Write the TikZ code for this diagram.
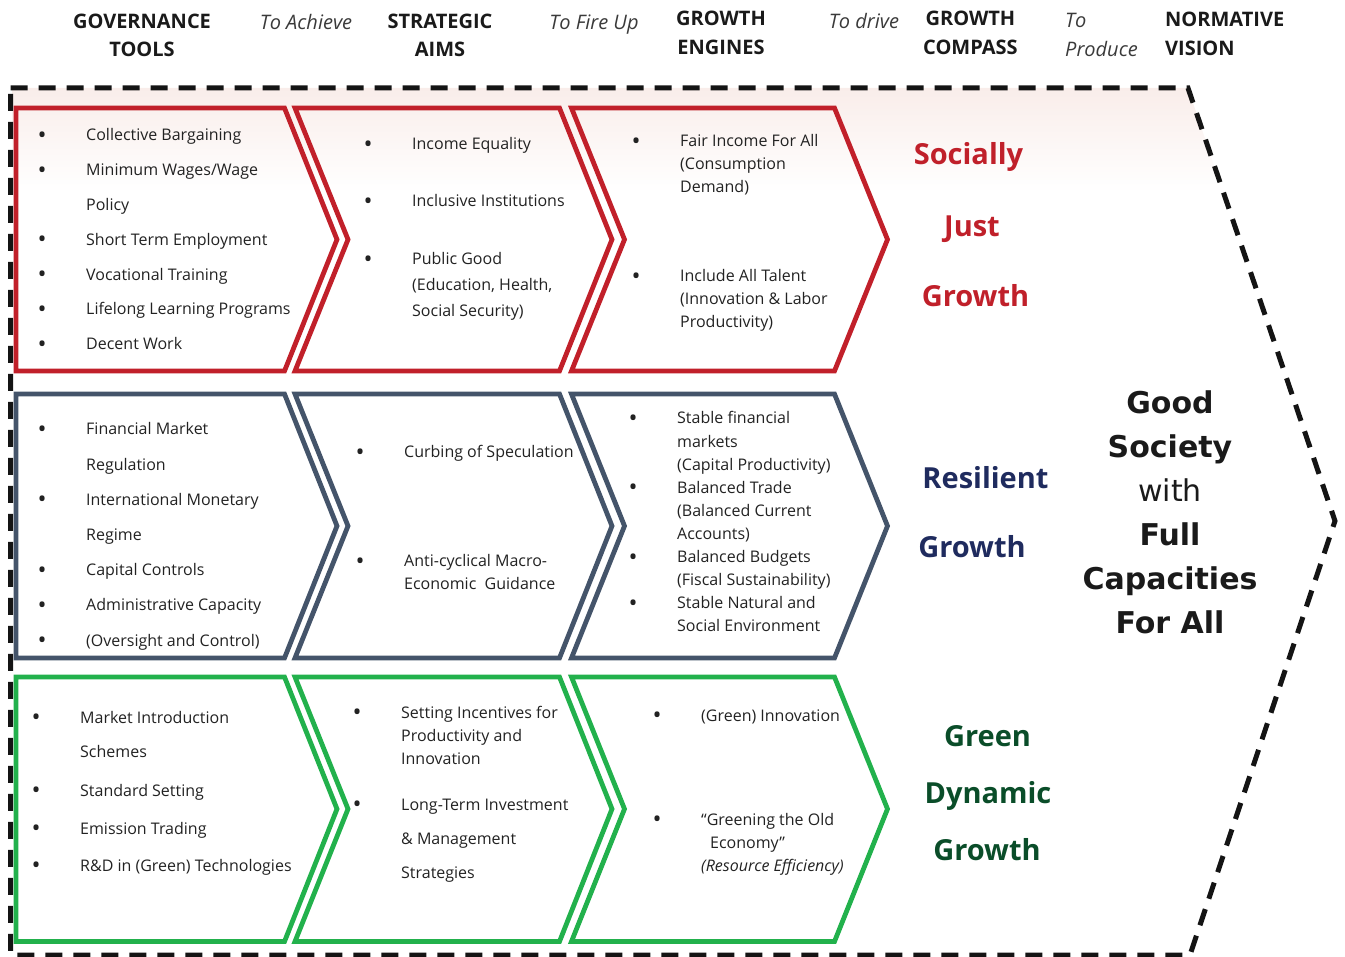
\documentclass[tikz,border=0pt]{standalone}
\usepackage{fontspec}
\setmainfont{Open Sans}
\newfontfamily\gsfont{DejaVu Sans}
\definecolor{redc}{HTML}{C1202A}
\definecolor{bluec}{HTML}{44546A}
\definecolor{greenc}{HTML}{22B14C}
\definecolor{redt}{HTML}{C0202A}
\definecolor{bluet}{HTML}{1F2B5E}
\definecolor{greent}{HTML}{0A4D29}
\definecolor{bodyc}{HTML}{222222}
\definecolor{hdrc}{HTML}{1A1A1A}
\definecolor{connc}{HTML}{3A3A3A}
\definecolor{pinkc}{HTML}{F9EDEA}
\newcommand{\bigbul}{\raisebox{-2.6pt}{\fontsize{24}{24}\selectfont\textbullet}}
\newcommand{\bl}[1]{\hbox{\makebox[47pt][l]{\hspace*{-1.5pt}\bigbul}#1}}
\newcommand{\nb}[1]{\hbox{\hspace*{47pt}#1}}
\newcommand{\lstbox}[2]{\vtop{\baselineskip=#1pt\lineskiplimit=-100pt\relax #2}}
\newcommand{\twoc}[2]{\vtop{\baselineskip=28.5pt\lineskiplimit=-100pt\halign{\hfil##\hfil\cr#1\cr#2\cr}}}
\newcommand{\twol}[2]{\vtop{\baselineskip=28.5pt\lineskiplimit=-100pt\halign{##\hfil\cr#1\cr#2\cr}}}
\newcommand{\rowshapes}[4]{%
  \draw[chev,draw=#4] (16,#1) -- (284.5,#1) -- (337,#3) -- (284.5,#2) -- (16,#2) -- cycle;
  \draw[chev,draw=#4] (295,#1) -- (559.5,#1) -- (612,#3) -- (559.5,#2) -- (295,#2) -- (348,#3) -- cycle;
  \draw[chev,draw=#4] (571.5,#1) -- (834.5,#1) -- (887.5,#3) -- (834.5,#2) -- (571.5,#2) -- (624.5,#3) -- cycle;}
\begin{document}
\begin{tikzpicture}[x=1pt,y=-1pt,
  chev/.style={line width=4.8pt, line join=miter, miter limit=20},
  outl/.style={line width=5pt, dash pattern=on 17pt off 11pt, draw=black!92},
  lst/.style={anchor=base west, inner sep=0pt, text=bodyc, font=\fontsize{16}{23}\selectfont},
  hdr/.style={inner sep=0pt, text=hdrc, font=\bfseries\fontsize{20}{28}\selectfont},
  conn/.style={inner sep=0pt, anchor=base, text=connc, font=\itshape\fontsize{20}{28}\selectfont},
  rlbl/.style={inner sep=0pt, anchor=base, font=\bfseries\fontsize{29}{35}\selectfont},
]
\useasboundingbox (0,0) rectangle (1345,957);
% pink fade at top
\shade[top color=pinkc, bottom color=white] (12,88) -- (1188,88) -- (1223,192) -- (12,192) -- cycle;
% dashed outline
\draw[outl] (10.5,88) -- (1188,88) -- (1335,521) -- (1190,955) -- (10.5,955) -- cycle;
% chevron rows
\rowshapes{108}{371}{239.5}{redc}
\rowshapes{394}{658}{526}{bluec}
\rowshapes{677}{941.5}{809}{greenc}

% headers
\node[hdr,anchor=base] (hgov) at (142,28.5) {\twoc{GOVERNANCE}{TOOLS}};
\node[conn] (cach) at (306,30) {To Achieve};
\node[hdr,anchor=base] (hstr) at (440,28.5) {\twoc{STRATEGIC}{AIMS}};
\node[conn] (cfire) at (594,30) {To Fire Up};
\node[hdr,anchor=base] (heng) at (721,26) {\twoc{GROWTH}{ENGINES}};
\node[conn] (cdrive) at (864,29) {To drive};
\node[hdr,anchor=base west] (hcomp) at (923,26) {\twoc{GROWTH}{COMPASS}};
\node[conn,anchor=base west] (cprod) at (1065,28) {\twol{To}{Produce}};
\node[hdr,anchor=base west] (hvis) at (1165,27) {\twol{NORMATIVE}{VISION}};

% row 1 lists
\node[lst] (r1c1) at (39,141) {\lstbox{34.8}{%
  \bl{Collective Bargaining}
  \bl{Minimum Wages/Wage}
  \nb{Policy}
  \bl{Short Term Employment}
  \bl{Vocational Training}
  \bl{Lifelong Learning Programs}
  \bl{Decent Work}}};
\node[lst] (r1c2) at (365,150) {\lstbox{26}{%
  \bl{Income Equality}\vskip31pt
  \bl{Inclusive Institutions}\vskip32pt
  \bl{Public Good}
  \nb{(Education, Health,}
  \nb{Social Security)}}};
\node[lst] (r1c3) at (633,147) {\lstbox{23}{%
  \bl{Fair Income For All}
  \nb{(Consumption}
  \nb{Demand)}\vskip66pt
  \bl{Include All Talent}
  \nb{(Innovation \& Labor}
  \nb{Productivity)}}};

% row 2 lists
\node[lst] (r2c1) at (39,435) {\lstbox{35.2}{%
  \bl{Financial Market}
  \nb{Regulation}
  \bl{International Monetary}
  \nb{Regime}
  \bl{Capital Controls}
  \bl{Administrative Capacity}
  \bl{(Oversight and Control)}}};
\node[lst] (r2c2) at (357,458) {\lstbox{23}{%
  \bl{Curbing of Speculation}\vskip86pt
  \bl{Anti-cyclical Macro-}
  \nb{Economic\ \ Guidance}}};
\node[lst] (r2c3) at (630,424) {\lstbox{23.1}{%
  \bl{Stable financial}
  \nb{markets}
  \nb{(Capital Productivity)}
  \bl{Balanced Trade}
  \nb{(Balanced Current}
  \nb{Accounts)}
  \bl{Balanced Budgets}
  \nb{(Fiscal Sustainability)}
  \bl{Stable Natural and}
  \nb{Social Environment}}};

% row 3 lists
\node[lst] (r3c1) at (33,723) {\lstbox{34}{%
  \bl{Market Introduction}
  \nb{Schemes}\vskip5pt
  \bl{Standard Setting}\vskip4pt
  \bl{Emission Trading}\vskip3pt
  \bl{R\&D in (Green) Technologies}}};
\node[lst] (r3c2) at (354,718) {\lstbox{23}{%
  \bl{Setting Incentives for}
  \nb{Productivity and}
  \nb{Innovation}\vskip23pt
  \bl{Long-Term Investment}\vskip11pt
  \nb{\& Management}\vskip11pt
  \nb{Strategies}}};
\node[lst] (r3c3) at (654,721) {\lstbox{23}{%
  \bl{(Green) Innovation}\vskip81pt
  \bl{“Greening the Old}
  \nb{\hspace*{9pt}Economy”}
  \nb{\itshape (Resource Efficiency)}}};

% growth compass labels
\node[rlbl,text=redt] (soc) at (968.5,165) {Socially};
\node[rlbl,text=redt] (just) at (972,237) {Just};
\node[rlbl,text=redt] (grw1) at (975.5,307) {Growth};
\node[rlbl,text=bluet] (res) at (985.5,489) {Resilient};
\node[rlbl,text=bluet] (grw2) at (972,558) {Growth};
\node[rlbl,text=greent] (grn) at (987.5,746) {Green};
\node[rlbl,text=greent] (dyn) at (988,803) {Dynamic};
\node[rlbl,text=greent] (grw3) at (987,860) {Growth};

% normative vision
\node[inner sep=0pt, anchor=base, text=hdrc, font=\gsfont\fontsize{30}{44}\selectfont] (vision) at (1170,414)
  {\vtop{\baselineskip=44pt\lineskiplimit=-100pt\halign{\hfil#\hfil\cr
   \bfseries Good\cr \bfseries Society\cr with\cr \bfseries Full\cr \bfseries Capacities\cr \bfseries For All\cr}}};
\end{tikzpicture}
\end{document}
